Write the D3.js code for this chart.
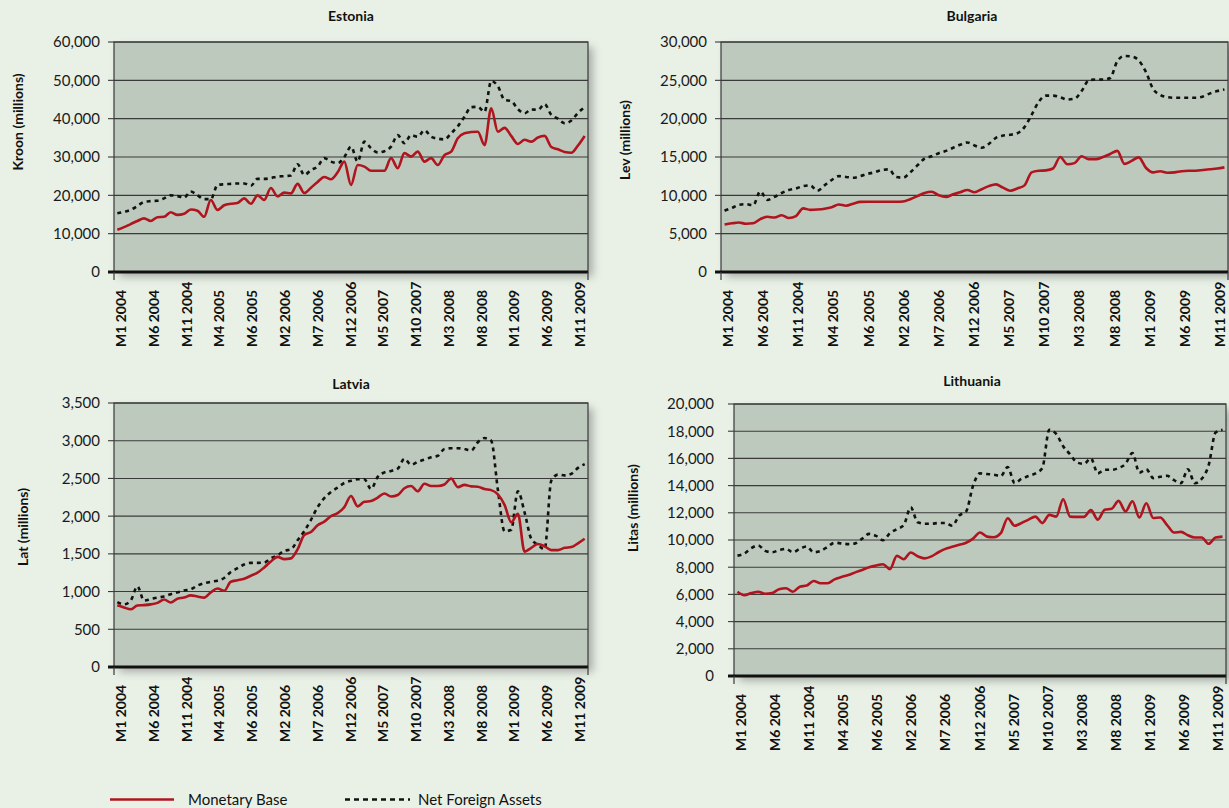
<!DOCTYPE html>
<html><head><meta charset="utf-8">
<script src="https://cdn.jsdelivr.net/npm/d3@7"></script>
<style>
body{margin:0;background:#e9f1e7;}
svg{display:block;font-family:Lato,"Open Sans",sans-serif;}
</style>
</head><body>
<svg id="c" width="1229" height="808"></svg>
<script>
// ---- data ----
const years = [2004, 2005, 2006, 2007, 2008, 2009];
const tickLabels = ["M1 2004","M6 2004","M11 2004","M4 2005","M6 2005","M2 2006","M7 2006","M12 2006","M5 2007","M10 2007","M3 2008","M8 2008","M1 2009","M6 2009","M11 2009"];
const seriesNames = ["Monetary Base", "Net Foreign Assets"];

const estoniaMB = [11000,11700,12500,13300,14000,13300,14300,14400,15600,14900,
 15200,16300,16000,14400,18800,16200,17400,17800,18000,19200,
 17800,20000,18800,21900,19700,20700,20500,23000,20600,22000,
 23500,24800,24200,26000,28800,22700,27900,27500,26400,26400,
 26400,29700,27100,31000,30100,31400,28800,29700,27900,30500,
 31400,34900,36200,36500,36600,33100,42700,36600,37600,35500,
 33400,34500,34000,35100,35500,32600,32000,31300,31100,33000,
 35500];
const estoniaNFA = [15300,15700,16200,17200,18300,18500,18600,19200,20000,19800,
 19400,21000,20000,19000,19000,22700,22900,23000,23100,23100,
 22500,24300,24300,24500,24900,25000,25200,28100,25300,26600,
 27500,29700,28800,28400,30000,32700,28800,34000,32300,31200,
 31500,32700,35700,33600,35700,35300,37000,35300,34800,34600,
 36200,38000,40500,43000,43100,41800,49800,48500,44900,44600,
 42500,41400,42400,42300,43800,41000,40000,38800,39500,41500,
 43000];
const bulgariaMB = [6200,6350,6450,6300,6350,6900,7200,7100,7400,7050,
 7300,8300,8100,8150,8250,8450,8800,8650,8900,9150,
 9170,9170,9170,9170,9170,9200,9500,9900,10300,10470,
 10000,9780,10130,10400,10700,10400,10800,11200,11430,11000,
 10600,10900,11300,13000,13200,13250,13500,15000,14050,14200,
 15100,14700,14700,15000,15400,15800,14100,14500,14950,13600,
 13000,13150,12950,13000,13150,13200,13210,13300,13400,13500,
 13650];
const bulgariaNFA = [8000,8350,8750,8850,8700,10500,9400,9800,10300,10700,
 10900,11200,11300,10600,11300,12000,12500,12400,12300,12500,
 12800,13000,13300,13390,12400,12300,13000,13900,14800,15100,
 15500,15800,16200,16600,16900,16500,16200,16700,17500,17800,
 17900,18100,18900,20500,22200,23000,23000,22800,22500,22600,
 23600,25000,25100,25100,25300,27500,28170,28100,27600,26100,
 23900,23100,22800,22730,22730,22730,22730,22900,23300,23600,
 23800];
const latviaMB = [820,790,765,815,820,830,850,895,855,905,
 920,950,935,920,990,1040,1010,1130,1150,1170,
 1210,1250,1320,1400,1460,1430,1440,1560,1750,1790,
 1880,1927,2000,2040,2120,2268,2130,2190,2200,2245,
 2300,2260,2280,2370,2400,2330,2430,2400,2400,2420,
 2500,2385,2415,2395,2390,2360,2345,2290,2150,1920,
 2030,1530,1580,1630,1600,1550,1550,1580,1590,1640,
 1700];
const latviaNFA = [860,830,880,1070,880,900,920,935,965,990,
 1015,1030,1080,1110,1130,1145,1180,1260,1310,1360,
 1380,1380,1385,1440,1480,1540,1560,1680,1800,1950,
 2120,2240,2320,2380,2440,2470,2490,2490,2360,2520,
 2580,2600,2630,2760,2680,2720,2750,2780,2800,2890,
 2900,2900,2890,2870,2980,3035,3000,2350,1800,1820,
 2330,2050,1700,1620,1560,2470,2550,2540,2560,2640,
 2690];
const lithuaniaMB = [6200,5950,6100,6200,6050,6100,6380,6450,6200,6570,
 6650,6990,6820,6820,7100,7280,7430,7620,7800,8000,
 8120,8220,7850,8830,8590,9080,8800,8650,8800,9100,
 9350,9500,9650,9800,10100,10550,10250,10200,10500,11600,
 11050,11250,11500,11720,11240,11850,11720,13000,11720,11700,
 11700,12200,11500,12220,12300,12880,12100,12850,11650,12700,
 11620,11650,11100,10550,10600,10350,10180,10180,9720,10180,
 10250];
const lithuaniaNFA = [8850,9000,9400,9600,9200,9100,9250,9350,9100,9350,
 9520,9100,9200,9500,9800,9750,9700,9750,10100,10450,
 10300,9980,10500,10800,11100,12400,11300,11200,11200,11250,
 11250,11050,11800,12100,14000,14900,14850,14800,14700,15360,
 14180,14500,14700,14900,15300,18100,17800,16900,16300,15700,
 15600,16000,14900,15160,15160,15300,15600,16390,14950,15200,
 14550,14650,14720,14400,14180,15200,14180,14500,15500,17900,
 18100];

// 71 monthly categories: M1 2004 .. M11 2009
const months = [];
years.forEach(y => { for (let m = 1; m <= 12; m++) months.push("M" + m + " " + y); });
months.length = 71;

// ---- layout ----
const panels = [
 {title:"Estonia", ylab:"Kroon (millions)", ymax:60000, step:10000, mb:estoniaMB, nfa:estoniaNFA,
  l:114, t:42, r:588, b:272, tx:351, ty:21, yx:18, yy:122, lblR:100, xlBottom:347},
 {title:"Bulgaria", ylab:"Lev (millions)", ymax:30000, step:5000, mb:bulgariaMB, nfa:bulgariaNFA,
  l:721, t:42, r:1228, b:272, tx:972, ty:21, yx:625, yy:140, lblR:707, xlBottom:347},
 {title:"Latvia", ylab:"Lat (millions)", ymax:3500, step:500, mb:latviaMB, nfa:latviaNFA,
  l:114, t:403, r:588, b:667, tx:351, ty:389, yx:23, yy:527, lblR:100, xlBottom:742},
 {title:"Lithuania", ylab:"Litas (millions)", ymax:20000, step:2000, mb:lithuaniaMB, nfa:lithuaniaNFA,
  l:734, t:404, r:1226, b:676, tx:972, ty:386, yx:633, yy:508, lblR:714, xlBottom:751}
];

const RED = "#b0141e";
const svg = d3.select("#c");
svg.append("rect").attr("width",1229).attr("height",808).attr("fill","#e9f1e7");
const defs = svg.append("defs");
const f = defs.append("filter").attr("id","sh").attr("x","-5%").attr("y","-5%").attr("width","115%").attr("height","120%");
f.append("feDropShadow").attr("dx",5).attr("dy",5).attr("stdDeviation",4)
 .attr("flood-color","#000").attr("flood-opacity",0.28);
const fmt = d3.format(",");

panels.forEach(p => {
  const g = svg.append("g");
  const x = d3.scalePoint().domain(months).range([p.l, p.r]).padding(0.5);
  // category labels are laid out slightly inside the data span (as in the source chart)
  const xl = d3.scalePoint().domain(tickLabels).range([p.l + 7, p.r - 8]);
  const y = d3.scaleLinear().domain([0, p.ymax]).range([p.b, p.t]);
  const ticks = d3.range(0, p.ymax + p.step / 2, p.step);

  g.append("rect").attr("x",p.l).attr("y",p.t).attr("width",p.r-p.l).attr("height",p.b-p.t)
   .attr("fill","#bec9bd").attr("filter","url(#sh)");
  // gridlines
  g.selectAll(".grid").data(ticks.filter(d => d > 0)).join("line")
   .attr("x1",p.l).attr("x2",p.r).attr("y1",d=>y(d)).attr("y2",d=>y(d))
   .attr("stroke","#3a3a3a").attr("stroke-width",1.1);
  // border
  g.append("rect").attr("x",p.l).attr("y",p.t).attr("width",p.r-p.l).attr("height",p.b-p.t)
   .attr("fill","none").attr("stroke","#3a3a3a").attr("stroke-width",1.2);
  // y ticks & labels
  g.selectAll(".yt").data(ticks).join("line")
   .attr("x1",p.l-6).attr("x2",p.l).attr("y1",d=>y(d)).attr("y2",d=>y(d))
   .attr("stroke","#3a3a3a").attr("stroke-width",1.1);
  g.selectAll(".yl").data(ticks).join("text")
   .attr("x",p.lblR).attr("y",d=>y(d)).attr("dy","0.36em").attr("text-anchor","end")
   .attr("font-size",15).attr("fill","#1a1a1a").text(d=>fmt(d));
  // x axis
  g.append("line").attr("x1",p.l-6).attr("x2",p.r).attr("y1",p.b).attr("y2",p.b)
   .attr("stroke","#111").attr("stroke-width",3);
  [p.l, p.r].forEach(xx => g.append("line").attr("x1",xx).attr("x2",xx).attr("y1",p.b).attr("y2",p.b+8)
   .attr("stroke","#3a3a3a").attr("stroke-width",1.2));
  g.selectAll(".xl").data(tickLabels).join("text")
   .attr("transform",d=>`translate(${xl(d)},${p.xlBottom}) rotate(-90)`)
   .attr("dy","0.36em").attr("text-anchor","start").attr("font-size",14).attr("font-weight","bold")
   .attr("fill","#111").text(d=>d);
  // titles
  g.append("text").attr("x",p.tx).attr("y",p.ty).attr("text-anchor","middle")
   .attr("font-size",14).attr("font-weight","bold").attr("fill","#111").text(p.title);
  g.append("text").attr("transform",`translate(${p.yx},${p.yy}) rotate(-90)`).attr("dy","0.36em")
   .attr("text-anchor","middle").attr("font-size",14).attr("font-weight","bold").attr("fill","#111").text(p.ylab);
  // lines
  const line = d3.line().x((d,i)=>x(months[i])).y(d=>y(d)).curve(d3.curveMonotoneX);
  g.append("path").datum(p.nfa).attr("d",line).attr("fill","none").attr("stroke","#111")
   .attr("stroke-width",2.6).attr("stroke-dasharray","4,4");
  g.append("path").datum(p.mb).attr("d",line).attr("fill","none").attr("stroke",RED)
   .attr("stroke-width",2.6).attr("stroke-linejoin","round");
});

// legend
const lg = svg.append("g");
lg.append("line").attr("x1",110).attr("x2",174).attr("y1",799.5).attr("y2",799.5).attr("stroke",RED).attr("stroke-width",2.6);
lg.append("text").attr("x",188).attr("y",805).attr("font-size",15).attr("fill","#111").text(seriesNames[0]);
lg.append("line").attr("x1",345).attr("x2",410).attr("y1",799.5).attr("y2",799.5).attr("stroke","#111")
 .attr("stroke-width",2.6).attr("stroke-dasharray","5,4");
lg.append("text").attr("x",418).attr("y",805).attr("font-size",15).attr("fill","#111").text(seriesNames[1]);
</script>
</body></html>
